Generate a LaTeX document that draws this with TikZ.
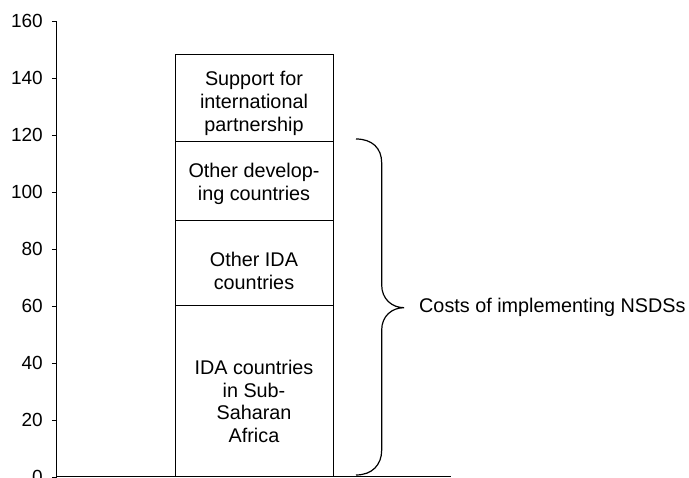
\documentclass[tikz,border=0pt]{standalone}
\usepackage{fontspec}
\setmainfont{Liberation Sans}
\usetikzlibrary{positioning}
\tikzset{font=\fontsize{19}{22.5}\selectfont}
\tikzset{part/.style={draw, line width=1pt, outer sep=0pt, inner sep=0pt,
    minimum width=158pt}}
\tikzset{parttext/.style={align=center, inner sep=0pt,
    font=\fontsize{19.8}{22.8}\selectfont}}

\begin{document}
\begin{tikzpicture}[x=1pt,y=1pt]
  \useasboundingbox (-57,-1) rectangle (632,477);
  \draw[line width=1pt] (0,0)--(394,0);
  \draw[line width=1pt] (0,0)--(0,456);
  \foreach \v in {0,20,...,160}{
    \draw[line width=.8pt] (-5,{\v*2.85})--(0,{\v*2.85});
    \node[left=14pt, inner sep=0pt] (t\v) at (0,{\v*2.85}) {\v};
  };

  % stacked bar
  \node[part, minimum height=171pt, anchor=south west] (ssa) at (118,0) {};
  \node[part, minimum height=85.5pt, above=0pt of ssa] (ida) {};
  \node[part, minimum height=78.5pt, above=0pt of ida] (dev) {};
  \node[part, minimum height=87pt, above=0pt of dev] (intl) {};
  \node[parttext] (ssatext) at ([yshift=-10pt]ssa.center)
    {IDA countries\\in Sub-\\Saharan\\Africa};
  \node[parttext] (idatext) at ([yshift=-8pt]ida.center)
    {Other IDA\\countries};
  \node[parttext] (devtext) at ([yshift=-3pt]dev.center)
    {Other develop-\\ing countries};
  \node[parttext] (intltext) at ([yshift=-5pt]intl.center)
    {Support for\\international\\partnership};

  % brace
  \coordinate (tip) at (347,169.3);
  \draw[line width=1.2pt] (299,2) .. controls (315,2) and (324.7,12) .. (324.7,27)
    -- (324.7,147) .. controls (324.7,161) and (335,169.3) .. (tip)
    .. controls (335,169.3) and (324.7,178) .. (324.7,192)
    -- (324.7,314) .. controls (324.7,329) and (315,338) .. (299,338);
  \node[right=15pt of tip, inner sep=0pt, parttext] (cost)
    {Costs of implementing NSDSs};
\end{tikzpicture}
\end{document}
